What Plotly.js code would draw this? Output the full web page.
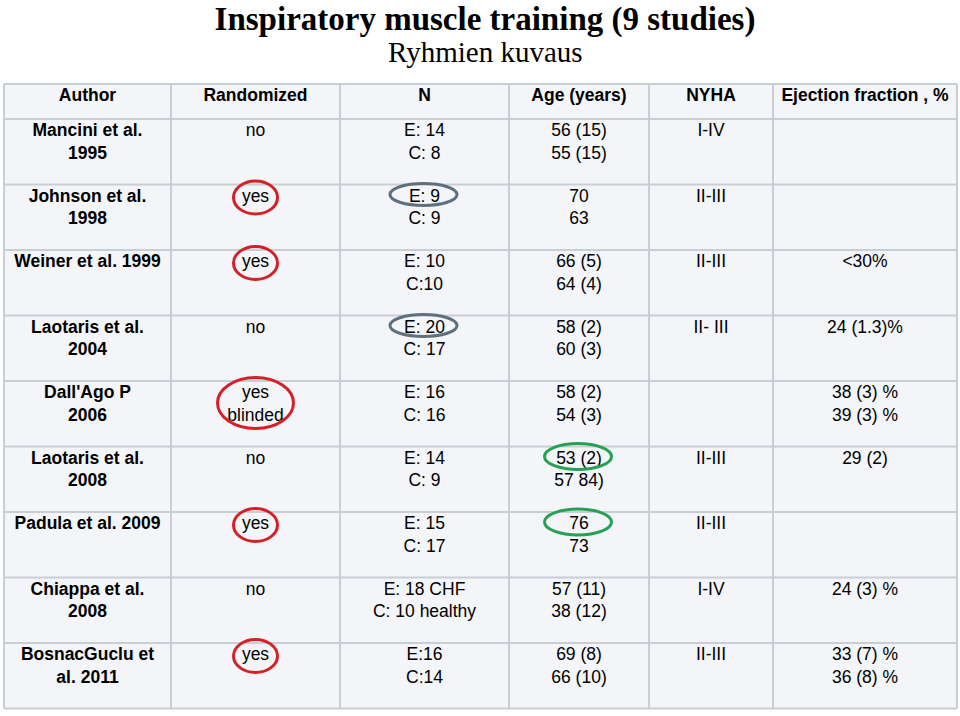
<!DOCTYPE html>
<html>
<head>
<meta charset="utf-8">
<script src="https://cdn.plot.ly/plotly-3.0.1.min.js"></script>
<style>
  body { margin: 0; background: #ffffff; }
  #chart { width: 960px; height: 716px; }
</style>
</head>
<body>
<div id="chart"></div>
<script>
// table contents, one array per column
var headers = ["Author", "Randomized", "N", "Age (years)", "NYHA", "Ejection fraction , %"];
var authors = ["Mancini et al.<br>1995", "Johnson et al.<br>1998", "Weiner et al. 1999",
  "Laotaris et al.<br>2004", "Dall'Ago P<br>2006", "Laotaris et al.<br>2008",
  "Padula et al. 2009", "Chiappa et al.<br>2008", "BosnacGuclu et<br>al. 2011"];
var randomized = ["no", "yes", "yes", "no", "yes<br>blinded", "no", "yes", "no", "yes"];
var groupN = ["E: 14<br>C: 8", "E: 9<br>C: 9", "E: 10<br>C:10", "E: 20<br>C: 17", "E: 16<br>C: 16",
  "E: 14<br>C: 9", "E: 15<br>C: 17", "E: 18 CHF<br>C: 10 healthy", "E:16<br>C:14"];
var ages = ["56 (15)<br>55 (15)", "70<br>63", "66 (5)<br>64 (4)", "58 (2)<br>60 (3)", "58 (2)<br>54 (3)",
  "53 (2)<br>57 84)", "76<br>73", "57 (11)<br>38 (12)", "69 (8)<br>66 (10)"];
var nyha = ["I-IV", "II-III", "II-III", "II- III", "", "II-III", "II-III", "I-IV", "II-III"];
var ejection = ["", "", "<30%", "24 (1.3)%", "38 (3) %<br>39 (3) %", "29 (2)", "", "24 (3) %", "33 (7) %<br>36 (8) %"];

// highlighted cells: [column index, row index]
var redMarks = [[1, 1], [1, 2], [1, 4], [1, 6], [1, 8]];
var greyMarks = [[2, 1], [2, 3]];
var greenMarks = [[3, 5], [3, 6]];

var W = 960, H = 716;
var colPx = [167, 169, 169, 140, 124, 184];
var tblLeft = 4, tblTop = 84, headH = 35, rowH = 65.5;
var nRows = authors.length;

var colEdges = [tblLeft];
colPx.forEach(function (w) { colEdges.push(colEdges[colEdges.length - 1] + w); });
var rowEdges = [tblTop, tblTop + headH];
for (var i = 0; i < nRows; i++) rowEdges.push(tblTop + headH + rowH * (i + 1));
var tblRight = colEdges[colEdges.length - 1];
var tblBottom = rowEdges[rowEdges.length - 1];

function colCenter(c) { return (colEdges[c] + colEdges[c + 1]) / 2; }
var rowTops = authors.map(function (a, r) { return rowEdges[r + 1]; });

var sans = "Liberation Sans, Arial, sans-serif";
var fs = 17.5;
var textOffset = 4; // nudge of the text block below each row edge

var columns = [authors, randomized, groupN, ages, nyha, ejection];
var data = [];
data.push({
  type: "scatter", mode: "text", hoverinfo: "skip", showlegend: false,
  x: headers.map(function (h, c) { return colCenter(c); }),
  y: headers.map(function () { return tblTop + textOffset; }),
  text: headers, textposition: "bottom center",
  textfont: { family: sans, size: fs, color: "#000000", weight: "bold" }
});
columns.forEach(function (col, c) {
  data.push({
    type: "scatter", mode: "text", hoverinfo: "skip", showlegend: false,
    x: col.map(function () { return colCenter(c); }),
    y: rowTops.map(function (y) { return y + textOffset; }),
    text: col, textposition: "bottom center",
    textfont: { family: sans, size: fs, color: "#000000", weight: c === 0 ? "bold" : "normal" }
  });
});

var gridColor = "#c9ced5";
var shapes = [{
  type: "rect", xref: "x", yref: "y", layer: "below",
  x0: tblLeft, x1: tblRight, y0: tblTop, y1: tblBottom,
  fillcolor: "#f3f5f8", line: { width: 0 }
}];
colEdges.forEach(function (x) {
  shapes.push({ type: "line", xref: "x", yref: "y", layer: "below", x0: x, x1: x, y0: tblTop, y1: tblBottom,
    line: { color: gridColor, width: 2 } });
});
rowEdges.forEach(function (y) {
  shapes.push({ type: "line", xref: "x", yref: "y", layer: "below", x0: tblLeft, x1: tblRight, y0: y, y1: y,
    line: { color: gridColor, width: 2 } });
});

function lineCenter(r) { return rowTops[r] + 11; }
function ellipse(cx, cy, w, h, color) {
  return { type: "circle", xref: "x", yref: "y",
    x0: cx - w / 2, x1: cx + w / 2, y0: cy - h / 2, y1: cy + h / 2,
    line: { color: color, width: 3 } };
}
redMarks.forEach(function (m) {
  if (randomized[m[1]].indexOf("<br>") >= 0) shapes.push(ellipse(colCenter(m[0]), lineCenter(m[1]) + 11, 76, 51, "#d61f26"));
  else shapes.push(ellipse(colCenter(m[0]), lineCenter(m[1]) + 2, 44, 33, "#d61f26"));
});
greyMarks.forEach(function (m) {
  shapes.push(ellipse(colCenter(m[0]) - 1, lineCenter(m[1]) - 1, 67, 22, "#5f707d"));
});
greenMarks.forEach(function (m) {
  shapes.push(ellipse(colCenter(m[0]) - 1, lineCenter(m[1]) - 1, 67, 26, "#24a153"));
});

var layout = {
  width: W, height: H,
  margin: { l: 0, r: 0, t: 0, b: 0 },
  paper_bgcolor: "#ffffff", plot_bgcolor: "#ffffff",
  xaxis: { range: [0, W], visible: false, fixedrange: true },
  yaxis: { range: [H, 0], visible: false, fixedrange: true },
  title: {
    text: "<b>Inspiratory muscle training (9 studies)</b>",
    font: { family: "Liberation Serif, Times New Roman, serif", size: 33, color: "#000000" },
    x: 485 / W, xanchor: "center", y: 1 - 18 / H, yanchor: "middle"
  },
  annotations: [{
    text: "Ryhmien kuvaus", xref: "paper", yref: "paper",
    x: 485 / W, y: 1 - 52 / H, xanchor: "center", yanchor: "middle", showarrow: false,
    font: { family: "Liberation Serif, Times New Roman, serif", size: 29, color: "#000000" }
  }],
  shapes: shapes
};

Plotly.newPlot("chart", data, layout, { displayModeBar: false });
</script>
</body>
</html>
